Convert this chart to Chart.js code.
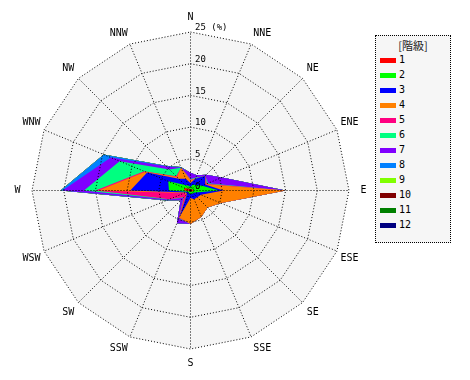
<!DOCTYPE html>
<html><head><meta charset="utf-8">
<script src="https://cdn.jsdelivr.net/npm/chart.js@4/dist/chart.umd.min.js"></script>
<style>
html,body{margin:0;padding:0;background:#fff;}
#wrap{position:relative;width:470px;height:380px;overflow:hidden;}
#c{position:absolute;left:0;top:0;}
#legend{position:absolute;left:375px;top:35px;width:74px;height:206px;border:1px dotted #000;background:#f6f6f6;font-family:"DejaVu Sans Mono",monospace;font-size:10px;color:#000;}
#legend .ttl{position:absolute;left:0;width:74px;top:2px;text-align:center;font-family:"Noto Sans CJK JP","DejaVu Sans Mono",monospace;font-size:11px;line-height:14px;color:#222;}
#legend .it{position:absolute;left:4px;height:12px;line-height:12px;}
#legend .sw{position:absolute;left:0;top:4px;width:16px;height:5px;}
#legend .tx{position:absolute;left:19px;top:0;white-space:nowrap;}
</style></head>
<body><div id="wrap"><canvas id="c" width="380" height="380"></canvas><div id="legend"></div></div>
<script>
const directions = ['N','NNE','NE','ENE','E','ESE','SE','SSE','S','SSW','SW','WSW','W','WNW','NW','NNW'];
const classLabels = ['1','2','3','4','5','6','7','8','9','10','11','12'];
const classColors = ['#ff0000','#00ff00','#0000ff','#ff8000','#ff0080','#00ff80','#8000ff','#0080ff','#80ff00','#800000','#008000','#000080'];
const legendTitle = '[階級]';
const tickValues = [0,5,10,15,20,25];
const tickUnit = '(%)';

// frequency (%) of each class by direction (N .. NNW)
const class1  = [0.2,0.3,0.3,0.3,0.5,0.3,0.2,0.2,0.2,0.2,0.2,0.2,1.0,1.0,0.4,0.3];
const class2  = [0.4,0.7,0.9,1.7,4.0,0.5,0.4,0.4,0.3,0.4,0.2,0.3,2.4,2.8,0.8,0.5];
const class3  = [0.6,1.0,2.1,0.5,0.7,1.0,0.9,0.9,0.7,3.9,0.4,0.3,6.1,3.6,1.4,1.2];
const class4  = [0.4,0.0,0.0,0.1,9.8,3.4,2.3,3.0,4.1,0.1,0.2,0.2,5.0,0.3,0.4,1.9];
const class5  = [0.1,0.1,0.0,0.2,0.0,0.0,0.0,0.0,0.0,0.1,0.5,2.6,0.5,0.2,0.2,0.0];
const class6  = [0.1,0.1,0.0,0.2,0.0,0.0,0.0,0.0,0.0,0.1,0.1,0.1,1.8,4.2,1.5,0.0];
const class7  = [1.0,0.4,0.2,2.4,0.0,0.0,0.0,0.0,0.0,0.8,0.6,0.3,3.4,1.5,0.7,0.0];
const class8  = [0.0,0.0,0.0,0.0,0.0,0.0,0.0,0.0,0.0,0.0,0.0,0.1,0.3,1.2,0.1,0.1];
const class9  = [0,0,0,0,0,0,0,0,0,0,0,0,0,0,0,0];
const class10 = [0,0,0,0,0,0,0,0,0,0,0,0,0,0,0,0];
const class11 = [0,0,0,0,0,0,0,0,0,0,0,0,0,0,0,0];
const class12 = [0,0,0,0,0,0,0,0,0,0,0,0,0,0,0,0];

const classValues = [class1,class2,class3,class4,class5,class6,class7,class8,class9,class10,class11,class12];
// stacked (cumulative) values
const cumulative = [];
classValues.forEach((arr, k) => {
  cumulative.push(arr.map((v, i) => +(v + (k ? cumulative[k-1][i] : 0)).toFixed(3)));
});

// legend (HTML)
const lg = document.getElementById('legend');
const t = document.createElement('div'); t.className = 'ttl'; t.textContent = legendTitle; lg.appendChild(t);
classLabels.forEach((lab, k) => {
  const it = document.createElement('div'); it.className = 'it'; it.style.top = (18 + 15 * k) + 'px';
  const sw = document.createElement('div'); sw.className = 'sw'; sw.style.background = classColors[k];
  const tx = document.createElement('div'); tx.className = 'tx'; tx.textContent = lab;
  it.appendChild(sw); it.appendChild(tx); lg.appendChild(it);
});

const FONT = '"DejaVu Sans Mono", monospace';

const halfPixel = {
  id: 'halfPixel',
  beforeDraw(chart) { chart.ctx.save(); chart.ctx.translate(0.5, 0.5); },
  afterDraw(chart) { chart.ctx.restore(); }
};
const plotBg = {
  id: 'plotBg',
  beforeDatasetsDraw(chart) {
    const s = chart.scales.r, ctx = chart.ctx;
    ctx.save();
    ctx.beginPath();
    for (let i = 0; i < directions.length; i++) {
      const p = s.getPointPosition(i, s.getDistanceFromCenterForValue(s.max));
      i ? ctx.lineTo(p.x, p.y) : ctx.moveTo(p.x, p.y);
    }
    ctx.closePath();
    ctx.fillStyle = '#f5f5f5';
    ctx.fill();
    ctx.restore();
  }
};
const tickText = {
  id: 'tickText',
  afterDraw(chart) {
    const s = chart.scales.r, ctx = chart.ctx;
    ctx.save();
    ctx.font = '9px ' + FONT;
    ctx.fillStyle = '#000';
    ctx.textAlign = 'left';
    ctx.textBaseline = 'bottom';
    tickValues.forEach(v => {
      const d = s.getDistanceFromCenterForValue(v);
      const txt = v === s.max ? v + ' ' + tickUnit : String(v);
      ctx.fillText(txt, s.xCenter + 5, s.yCenter - d + 1);
    });
    ctx.restore();
  }
};

new Chart(document.getElementById('c'), {
  type: 'radar',
  data: {
    labels: directions,
    datasets: classLabels.map((lab, k) => ({
      label: lab,
      data: cumulative[k],
      backgroundColor: classColors[k],
      borderColor: 'rgba(0,0,0,0)',
      borderWidth: 0,
      pointRadius: 0,
      pointHoverRadius: 0,
      fill: 'origin'
    }))
  },
  options: {
    responsive: false,
    animation: false,
    events: [],
    layout: { padding: 11 },
    plugins: { legend: { display: false }, tooltip: { enabled: false } },
    elements: { line: { tension: 0 } },
    scales: {
      r: {
        min: 0, max: 25,
        startAngle: 0,
        ticks: { display: false, stepSize: 5 },
        grid: { color: '#000', lineWidth: 1, z: 1, circular: false },
        border: { dash: [1, 2] },
        angleLines: { color: '#000', lineWidth: 1, borderDash: [1, 2] },
        pointLabels: {
          color: '#000',
          font: { family: FONT, size: 10 },
          padding: (ctx) => {
            const a = ctx.index * Math.PI * 2 / directions.length;
            const w = directions[ctx.index].length * 6;
            return 14.5 - (Math.abs(Math.sin(a)) * w / 2 + Math.abs(Math.cos(a)) * 6);
          }
        }
      }
    }
  },
  plugins: [halfPixel, plotBg, tickText]
});
</script>
</body></html>
